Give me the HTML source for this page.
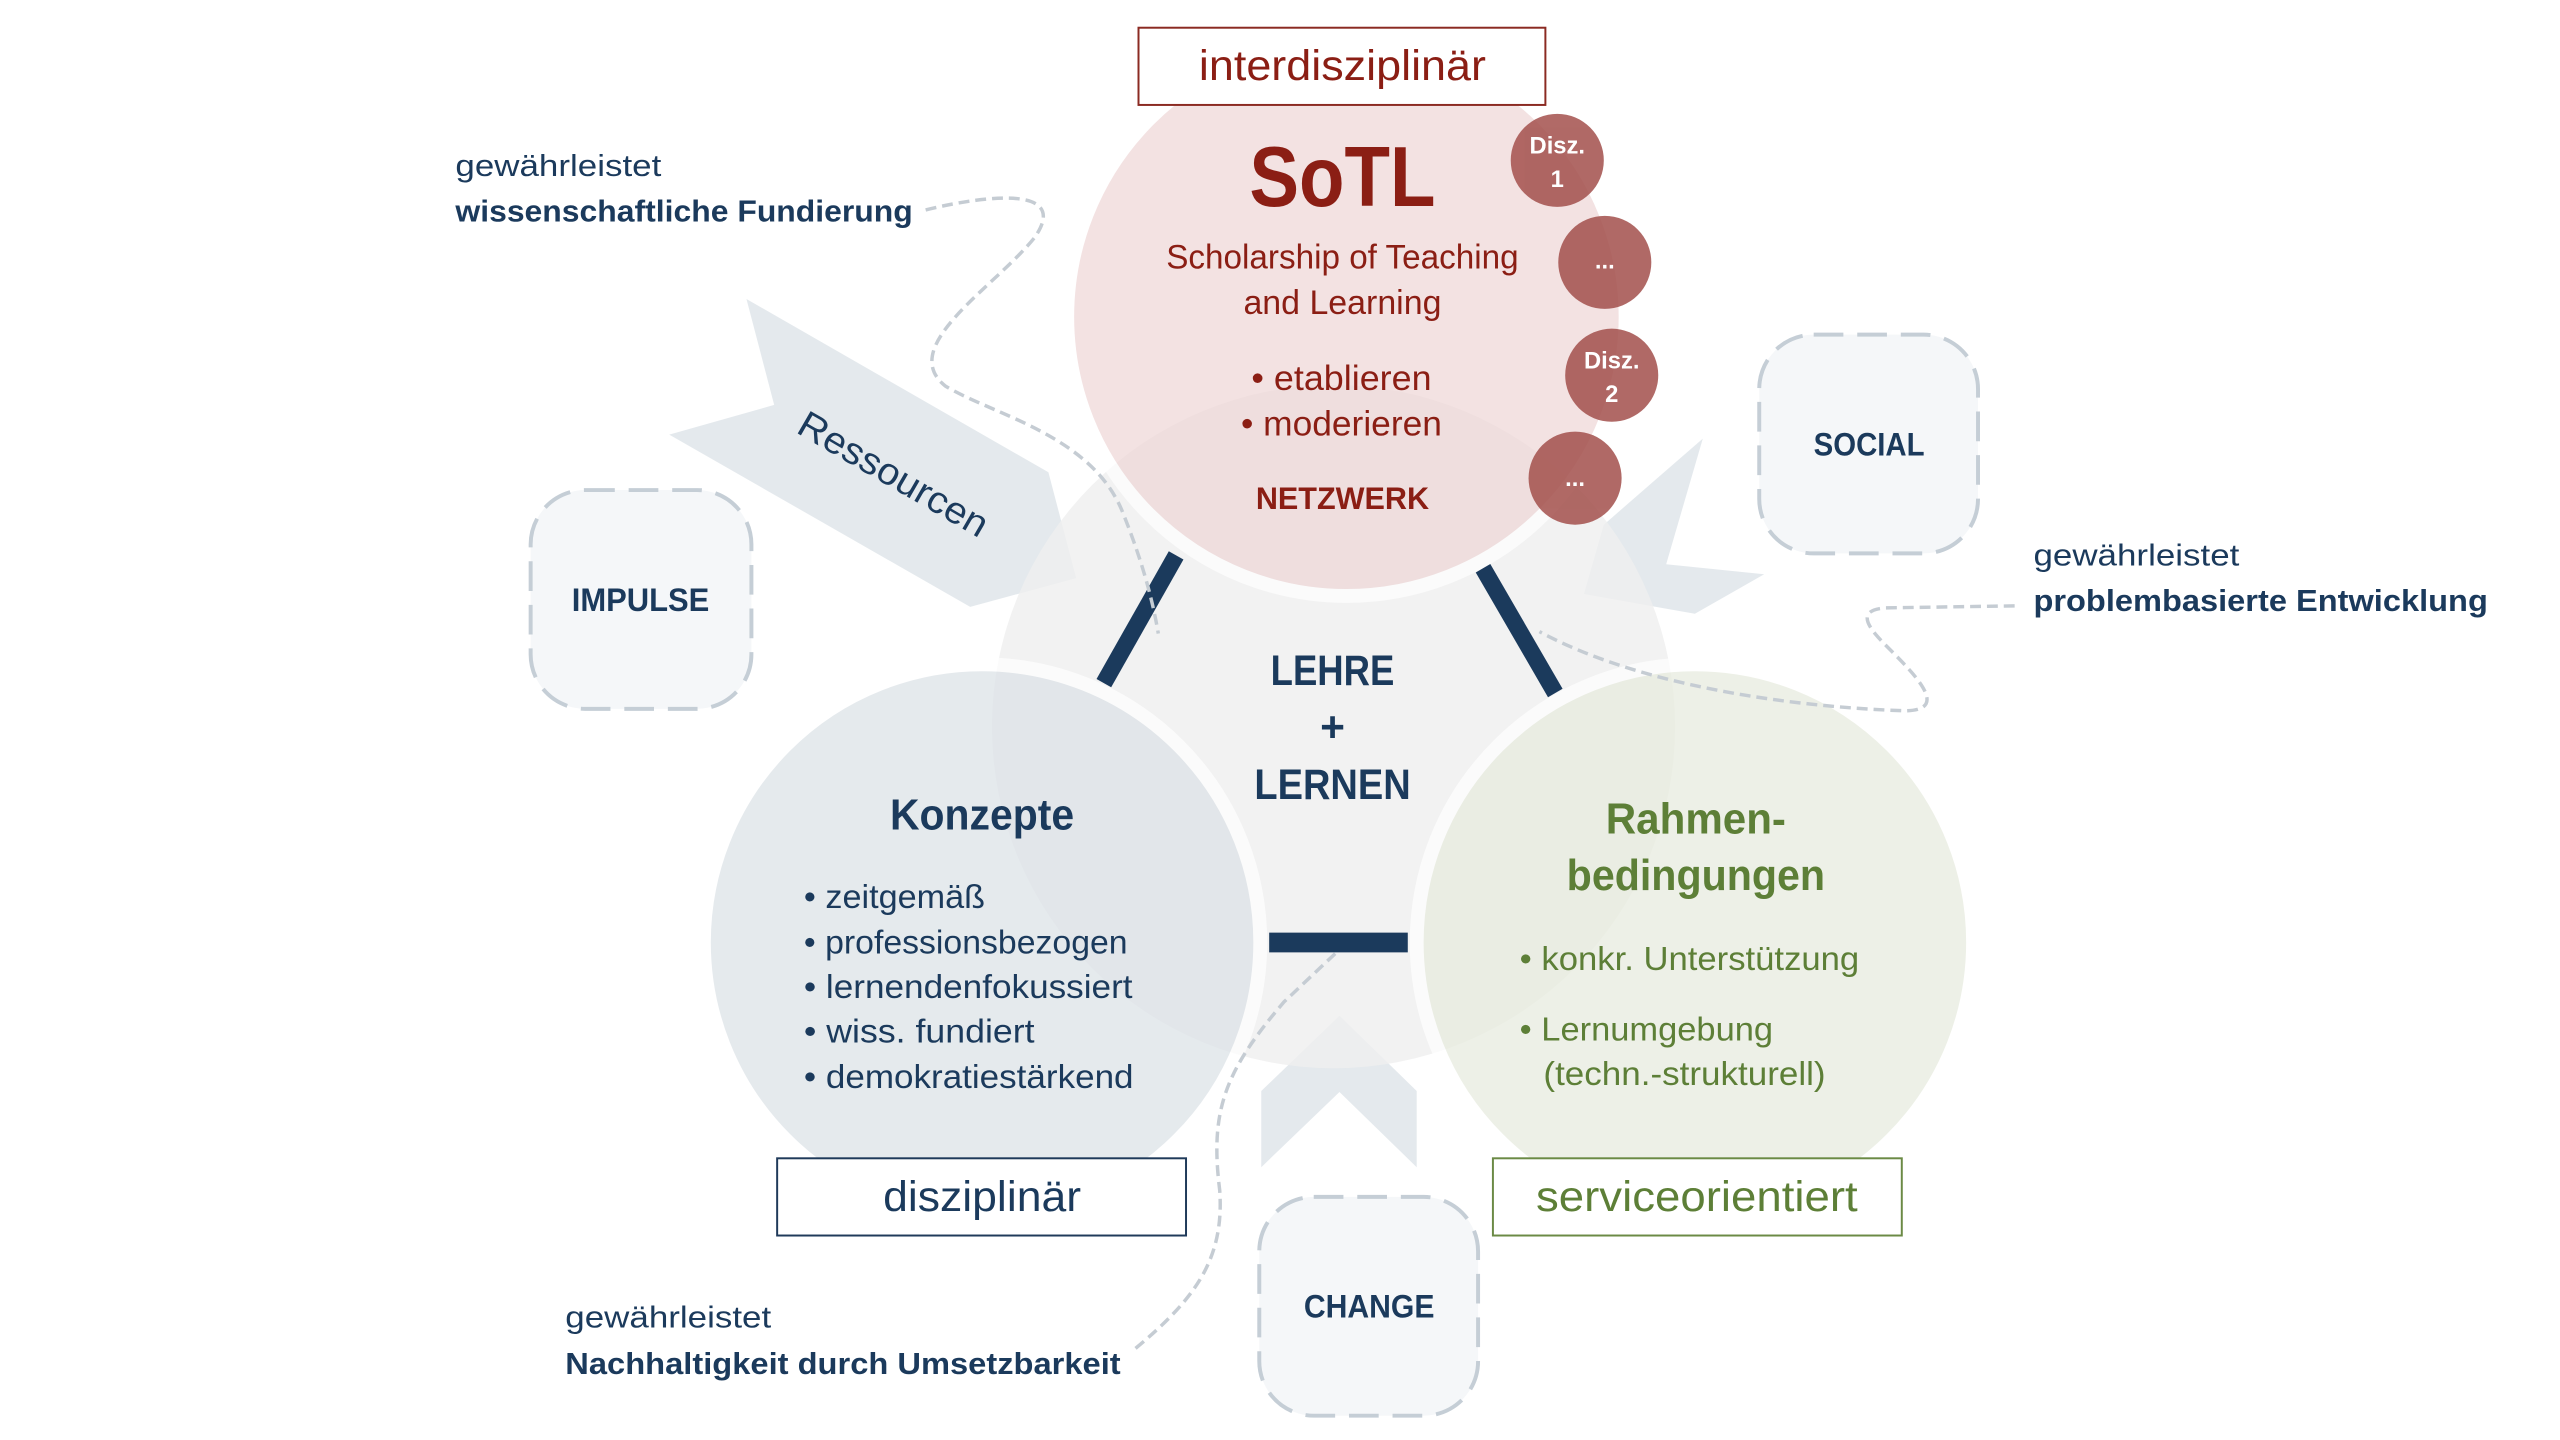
<!DOCTYPE html>
<html><head><meta charset="utf-8"><style>
html,body{margin:0;padding:0;background:#fff;}
svg{display:block;}
text{font-family:"Liberation Sans",sans-serif;}
</style></head><body>
<svg width="2560" height="1440" viewBox="0 0 2560 1440" xmlns="http://www.w3.org/2000/svg">
<rect width="2560" height="1440" fill="#fff"/>
<g transform="scale(0.99)">
<!-- dashed boxes -->
<g fill="#f5f7f9" stroke="#c5ced6" stroke-width="4" stroke-dasharray="30 14">
<rect x="536" y="495" width="223" height="221" rx="55"/>
<rect x="1777" y="338" width="221" height="221" rx="55"/>
<rect x="1272" y="1209" width="221" height="221" rx="55"/>
</g>
<!-- arrows -->
<g fill="#dfe5ea" opacity="0.85">
<polygon points="754,302 1059,477 1087,584 980,613 676,439 782,409"/>
<polygon points="1720,443 1683,570 1782,580 1712,620 1600,600 1620,530"/>
<polygon points="1353,1026 1431,1102 1431,1179 1353,1103 1274,1179 1274,1102"/>
</g>
<!-- big center circle -->
<circle cx="1347" cy="734" r="345" fill="#efefef" opacity="0.8"/>
<!-- outer circles -->
<circle cx="992" cy="952" r="281" fill="#dde3e8" opacity="0.75" stroke="#fff" stroke-width="14"/>
<circle cx="1712" cy="952" r="281" fill="#e8ecdf" opacity="0.75" stroke="#fff" stroke-width="14"/>
<circle cx="1360" cy="320" r="282" fill="#eed6d6" opacity="0.7" stroke="#fff" stroke-width="14"/>
<!-- disz circles -->
<g fill="#a3504c" opacity="0.85">
<circle cx="1573" cy="162" r="47"/>
<circle cx="1621" cy="265" r="47"/>
<circle cx="1628" cy="379" r="47"/>
<circle cx="1591" cy="483" r="47"/>
</g>
<g fill="#fff" font-weight="bold" font-size="24" text-anchor="middle">
<text x="1573" y="155">Disz.</text><text x="1573" y="189">1</text>
<text x="1621" y="271">...</text>
<text x="1628" y="372">Disz.</text><text x="1628" y="406">2</text>
<text x="1591" y="491">...</text>
</g>
<!-- bars -->
<g stroke="#1b3a5c" stroke-width="17">
<line x1="1188" y1="561" x2="1115" y2="690"/>
<line x1="1498" y1="574" x2="1571" y2="700"/>
<line x1="1282" y1="952" x2="1422" y2="952" stroke-width="20"/>
</g>
<!-- dashed curves -->
<g fill="none" stroke="#c5ccd3" stroke-width="3.5" stroke-dasharray="11 6">
<path d="M 935 212 C 1005 195, 1080 190, 1045 240 C 1005 290, 905 350, 955 390 C 1005 420, 1105 440, 1135 520 C 1155 570, 1165 610, 1170 640"/>
<path d="M 2035 612 L 1905 614 C 1875 616, 1885 632, 1905 652 C 1935 682, 1970 717, 1925 718 C 1805 714, 1655 692, 1555 638"/>
<path d="M 1147 1362 C 1207 1312, 1237 1272, 1232 1202 C 1222 1122, 1237 1082, 1297 1012 L 1350 962"/>
</g>
<!-- label boxes -->
<rect x="1150" y="28" width="411" height="78" fill="#fff" stroke="#8b2a22" stroke-width="2"/>
<rect x="785" y="1170" width="413" height="78" fill="#fff" stroke="#1f3a5a" stroke-width="2"/>
<rect x="1508" y="1170" width="413" height="78" fill="#fff" stroke="#6b8a45" stroke-width="2"/>
<!-- texts -->
<g fill="#8b1e14" text-anchor="middle">
<text x="1356" y="81" font-size="43" textLength="290" lengthAdjust="spacingAndGlyphs">interdisziplinär</text>
<text x="1356" y="208" font-size="86" font-weight="bold" textLength="188" lengthAdjust="spacingAndGlyphs">SoTL</text>
<text x="1356" y="271" font-size="35" textLength="356" lengthAdjust="spacingAndGlyphs">Scholarship of Teaching</text>
<text x="1356" y="317" font-size="35" textLength="200" lengthAdjust="spacingAndGlyphs">and Learning</text>
<text x="1355" y="394" font-size="36" textLength="182" lengthAdjust="spacingAndGlyphs">• etablieren</text>
<text x="1355" y="440" font-size="36" textLength="203" lengthAdjust="spacingAndGlyphs">• moderieren</text>
<text x="1356" y="514" font-size="32" font-weight="bold" textLength="175" lengthAdjust="spacingAndGlyphs">NETZWERK</text>
</g>
<g fill="#1b3a5c" font-weight="bold" text-anchor="middle" font-size="43">
<text x="1346" y="692" textLength="125" lengthAdjust="spacingAndGlyphs">LEHRE</text>
<text x="1346" y="749">+</text>
<text x="1346" y="807" textLength="158" lengthAdjust="spacingAndGlyphs">LERNEN</text>
<text x="992" y="838" font-size="44" textLength="186" lengthAdjust="spacingAndGlyphs">Konzepte</text>
<text x="647" y="617" font-size="33" textLength="139" lengthAdjust="spacingAndGlyphs">IMPULSE</text>
<text x="1888" y="460" font-size="33" textLength="112" lengthAdjust="spacingAndGlyphs">SOCIAL</text>
<text x="1383" y="1331" font-size="33" textLength="132" lengthAdjust="spacingAndGlyphs">CHANGE</text>
</g>
<g fill="#1b3a5c" font-size="34">
<text x="812" y="917" textLength="183" lengthAdjust="spacingAndGlyphs">• zeitgemäß</text>
<text x="812" y="963" textLength="327" lengthAdjust="spacingAndGlyphs">• professionsbezogen</text>
<text x="812" y="1008" textLength="332" lengthAdjust="spacingAndGlyphs">• lernendenfokussiert</text>
<text x="812" y="1053" textLength="233" lengthAdjust="spacingAndGlyphs">• wiss. fundiert</text>
<text x="812" y="1099" textLength="333" lengthAdjust="spacingAndGlyphs">• demokratiestärkend</text>
<text x="992" y="1223" font-size="43" text-anchor="middle" textLength="200" lengthAdjust="spacingAndGlyphs">disziplinär</text>
</g>
<g fill="#5d7f37">
<text x="1713" y="842" font-size="44" font-weight="bold" text-anchor="middle" textLength="182" lengthAdjust="spacingAndGlyphs">Rahmen-</text>
<text x="1713" y="899" font-size="44" font-weight="bold" text-anchor="middle" textLength="261" lengthAdjust="spacingAndGlyphs">bedingungen</text>
<text x="1535" y="980" font-size="34" textLength="343" lengthAdjust="spacingAndGlyphs">• konkr. Unterstützung</text>
<text x="1535" y="1051" font-size="34" textLength="256" lengthAdjust="spacingAndGlyphs">• Lernumgebung</text>
<text x="1559" y="1096" font-size="34" textLength="285" lengthAdjust="spacingAndGlyphs">(techn.-strukturell)</text>
<text x="1714" y="1223" font-size="43" text-anchor="middle" textLength="325" lengthAdjust="spacingAndGlyphs">serviceorientiert</text>
</g>
<g fill="#1b3a5c" font-size="31">
<text x="460" y="178" textLength="208" lengthAdjust="spacingAndGlyphs">gewährleistet</text>
<text x="460" y="224" font-weight="bold" textLength="462" lengthAdjust="spacingAndGlyphs">wissenschaftliche Fundierung</text>
<text x="2054" y="571" textLength="208" lengthAdjust="spacingAndGlyphs">gewährleistet</text>
<text x="2054" y="617" font-weight="bold" textLength="459" lengthAdjust="spacingAndGlyphs">problembasierte Entwicklung</text>
<text x="571" y="1341" textLength="208" lengthAdjust="spacingAndGlyphs">gewährleistet</text>
<text x="571" y="1388" font-weight="bold" textLength="561" lengthAdjust="spacingAndGlyphs">Nachhaltigkeit durch Umsetzbarkeit</text>
</g>
<text x="0" y="0" transform="translate(896,490) rotate(30)" fill="#1b3a5c" font-size="38" text-anchor="middle" textLength="215" lengthAdjust="spacingAndGlyphs">Ressourcen</text>
</g>
</svg>
</body></html>
